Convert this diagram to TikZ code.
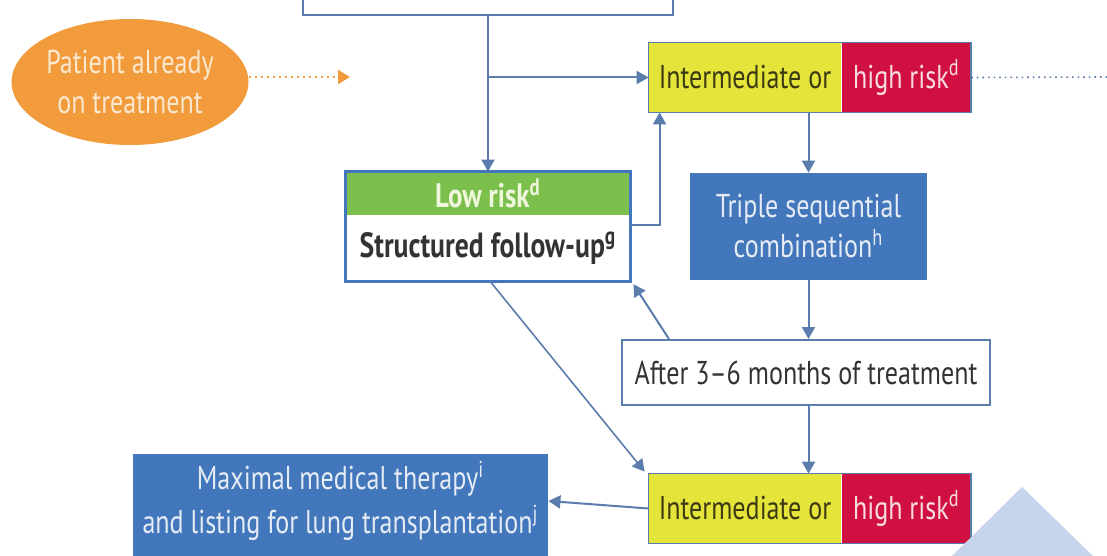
\documentclass[tikz,border=0pt]{standalone}
\usepackage{fontspec}
\setmainfont{PT Sans}[FakeStretch=0.79]
\usetikzlibrary{arrows.meta, shapes.geometric, positioning}
\definecolor{linkblue}{HTML}{5A7DAD}
\definecolor{boxblue}{HTML}{4277BB}
\definecolor{riskyellow}{HTML}{E4E43A}
\definecolor{riskred}{HTML}{D01040}
\definecolor{riskgreen}{HTML}{7DBF4C}
\definecolor{patorange}{HTML}{F29B3C}
\definecolor{oliveink}{HTML}{3C3A12}
\definecolor{pinkink}{HTML}{F8DCE2}
\definecolor{mintink}{HTML}{EEF7DC}
\definecolor{paleink}{HTML}{E6ECF6}
\definecolor{creamink}{HTML}{FCE8CE}
\definecolor{wedgeblue}{HTML}{C6D4EC}
\tikzstyle{plain} = [rectangle, minimum width=185pt, minimum height=35pt, draw=linkblue, line width=1pt, fill=white]
\tikzstyle{patient} = [ellipse, minimum width=118pt, minimum height=63pt, inner sep=0pt, fill=patorange, text=creamink, align=center]
\tikzstyle{midrisk} = [rectangle, minimum width=96pt, minimum height=34.5pt, inner sep=0pt, fill=riskyellow, text=oliveink]
\tikzstyle{highrisk} = [rectangle, minimum width=64.5pt, minimum height=34.5pt, inner sep=0pt, fill=riskred, text=pinkink]
\tikzstyle{lowbar} = [rectangle, minimum width=142pt, minimum height=21.5pt, inner sep=0pt, fill=riskgreen, text=mintink, font=\fontsize{17}{20}\selectfont\bfseries]
\tikzstyle{lowbody} = [rectangle, minimum width=142pt, minimum height=32.5pt, inner sep=0pt, fill=white, text=black!80, font=\fontsize{17.5}{20}\selectfont\bfseries]
\tikzstyle{therapy} = [rectangle, minimum width=118.5pt, minimum height=53.5pt, fill=boxblue, text=paleink, align=center]
\tikzstyle{review} = [rectangle, minimum width=184pt, minimum height=32.5pt, draw=linkblue, line width=1pt, fill=white, text=black!80]
\tikzstyle{listing} = [rectangle, minimum width=207.5pt, minimum height=44pt, fill=boxblue, text=paleink, align=center, font=\fontsize{16.5}{22}\selectfont]
\tikzstyle{arrow} = [linkblue, line width=1pt, -{Triangle[width=6.5pt,length=6pt]}]
\tikzstyle{riskframe} = [draw=linkblue, line width=0.8pt]

\begin{document}
\begin{tikzpicture}[x=0.5pt, y=-0.5pt, font=\fontsize{16.5}{20}\selectfont]
\clip (0,0) rectangle (1107,556);
\useasboundingbox (0,0) rectangle (1107,556);
\fill[white] (0,0) rectangle (1107,556);

\node (top) [plain] at (488,-20) {};
\node (patient) [patient] at (130,82) {Patient already\\on treatment};
\node (mid1) [midrisk] at (745,77.5) {Intermediate or};
\node (high1) [highrisk, right=0pt of mid1] {high risk\textsuperscript{d}};
\node (low) [lowbar] at (488,193.5) {Low risk\textsuperscript{d}};
\node (follow) [lowbody, below=0pt of low] {Structured follow-up\textsuperscript{g}};
\node (triple) [therapy] at (808.5,226.5) {Triple sequential\\combination\textsuperscript{h}};
\node (after) [review] at (806,372.5) {After 3--6 months of treatment};
\node (mid2) [midrisk] at (745,508.5) {Intermediate or};
\node (high2) [highrisk, right=0pt of mid2] {high risk\textsuperscript{d}};
\node (max) [listing] at (340.5,501) {Maximal medical therapy\textsuperscript{i}\\and listing for lung transplantation\textsuperscript{j}};
\fill[boxblue] (max.south west) rectangle ([yshift=-12pt]max.south east);

% frames
\draw [riskframe] (mid1.north west) rectangle (high1.south east);
\draw [riskframe] (mid2.north west) rectangle (high2.south east);
\draw [draw=boxblue, line width=1.5pt] (low.north west) rectangle (follow.south east);

% loose ends
\coordinate (split) at (top.south |- mid1.west);
\coordinate (dotend) at (350,77);
\coordinate (rightend) at (1107,77);

\draw [arrow] (top.south) -- (low.north);
\draw [arrow] (split) -- (mid1.west);
\draw [patorange, line width=1pt, dotted, -{Triangle[width=7pt,length=6pt]}] (patient.east |- dotend) -- (dotend);
\draw [linkblue, line width=0.8pt, dotted] (high1.east) -- (rightend);
\draw [arrow] ([yshift=-5pt]follow.north east) -| ([xshift=5.5pt]mid1.south west);
\draw [arrow] (triple.north |- mid1.south) -- (triple.north);
\draw [arrow] (triple.south) -- (triple.south |- after.north);
\draw [arrow] ([xshift=24pt]after.north west) -- ([xshift=1.5pt,yshift=-1.5pt]follow.south east);
\draw [arrow, line width=0.8pt] ([xshift=1pt]follow.south) -- ([xshift=-2pt,yshift=1pt]mid2.north west);
\draw [arrow] (triple.south |- after.south) -- (triple.south |- mid2.north);
\draw [arrow] (mid2.west) -- (max.east);

% watermark wedge
\fill[wedgeblue] (952,556) -- (1022,487) -- (1093,556) -- cycle;
\end{tikzpicture}
\end{document}
